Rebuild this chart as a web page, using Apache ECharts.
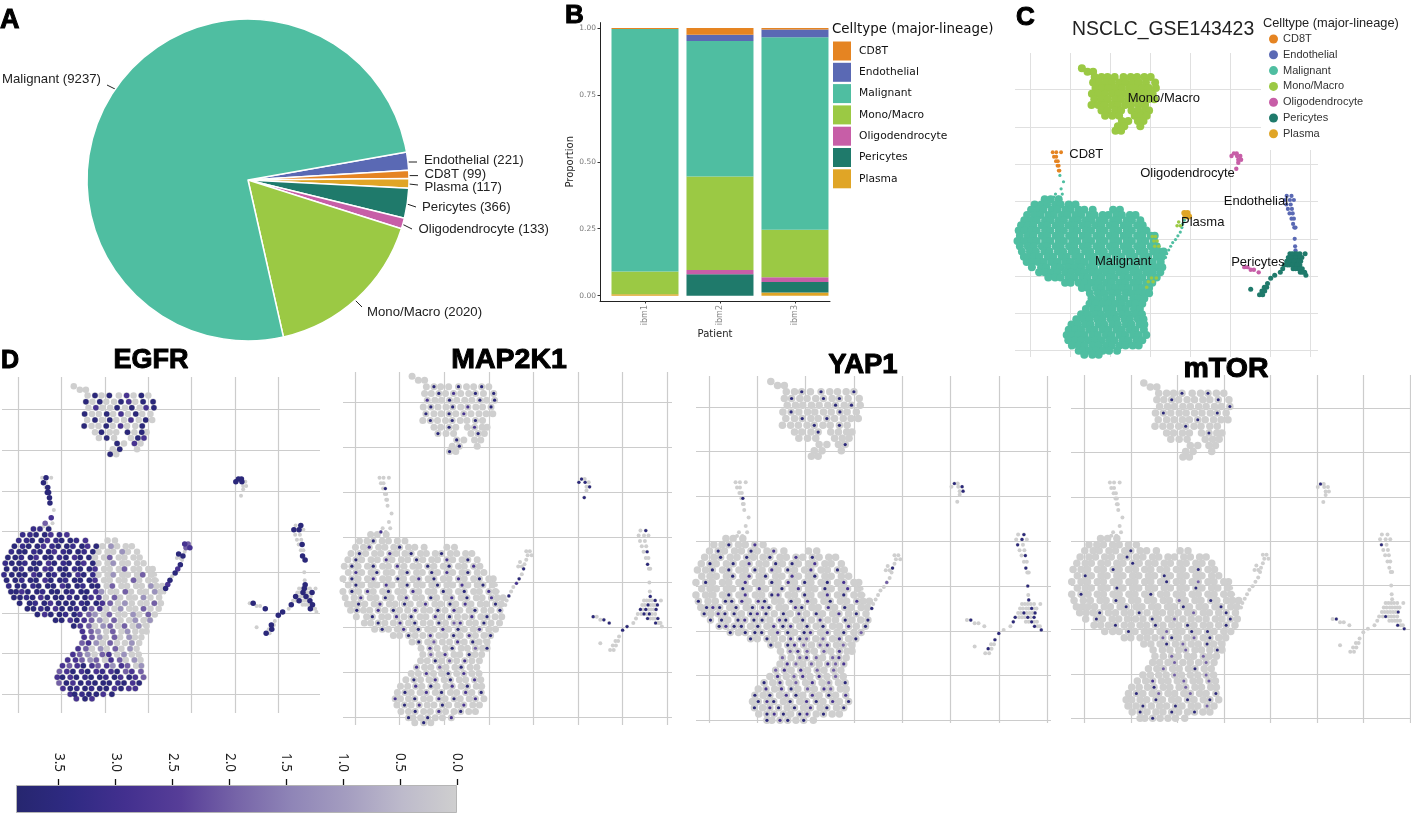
<!DOCTYPE html>
<html><head><meta charset="utf-8"><style>html,body{margin:0;padding:0;background:#fff}#c{width:1411px;height:816px}</style>
<script src="https://cdn.jsdelivr.net/npm/echarts@6/dist/echarts.min.js"></script></head><body><div id="c"></div><script>
// ---- cell types & colours
const cellTypes=['CD8T','Endothelial','Malignant','Mono/Macro','Oligodendrocyte','Pericytes','Plasma'];
const typeColors=['#E58422','#5A69B4','#4FBEA1','#9BC944','#C75EA7','#1F7A6B','#E0A526'];
// ---- panel A
const pieNames=['Endothelial','CD8T','Plasma','Pericytes','Oligodendrocyte','Mono/Macro','Malignant'];
const pieCounts=[221,99,117,366,133,2020,9237];
// ---- panel B
const patients=['ibm1','ibm2','ibm3'];
const propCD8T=[0.004,0.025,0.006];
const propEndothelial=[0,0.024,0.029];
const propMalignant=[0.906,0.506,0.719];
const propMono=[0.085,0.349,0.177];
const propOligo=[0,0.016,0.018];
const propPericytes=[0,0.08,0.039];
const propPlasma=[0.005,0,0.012];
// ---- UMAP cells: [y,[x,...]]
const malignantBlobRows=[
[40.6,[3.5,5,7]],
[39.2,[1,2.7,4.1,6.1,7.5,9.5,11.2]],
[37.8,[0.1,1.9,3.2,5.3,6.7,8.7,10,12,13.4,15.5,20.6,22.3]],
[36.4,[-0.9,1,2.4,4.4,5.8,7.8,9.2,11.2,12.6,14.7,16,18,19.4,21.4,22.8,24.8,26.2]],
[35,[-1.6,0.2,1.5,3.6,5,7,8.3,10.4,11.8,13.8,15.2,17.2,18.5,20.6,21.9,24,25.3,27.4]],
[33.6,[-2.4,-0.7,0.7,2.8,4.1,6.2,7.5,9.5,11,13,14.3,16.3,17.7,19.8,21.1,23.2,24.5,26.6,28]],
[32.2,[-3,-1.5,0.2,1.5,3.6,4.9,7,8.3,10.4,11.7,13.8,15.1,17.2,18.5,20.6,21.9,24,25.3,27.4,28.9]],
[30.8,[-2.7,-0.7,0.7,2.8,4.1,6.2,7.5,9.6,10.9,13,14.3,16.4,17.7,19.8,21.1,23.2,24.5,26.6,27.9,30,31]],
[29.4,[-3.3,-1.5,0.2,1.5,3.6,4.9,7,8.3,10.4,11.7,13.8,15.1,17.2,18.5,20.6,21.9,24,25.3,27.4,28.7,30.8]],
[28,[-2.7,-0.7,0.8,2.8,4.1,6.2,7.5,9.6,10.9,13,14.3,16.4,17.7,19.8,21.1,23.2,24.5,26.6,27.9,30,31.5]],
[26.6,[-2.2,-0.2,1.3,3.4,4.7,6.8,8.1,10.2,11.5,13.6,14.9,17,18.3,20.4,21.7,23.8,25.1,27.2,28.5,30.6,31.9,33.2]],
[25.2,[-1.7,-0.5,0.8,2.2,4.3,5.6,7.7,9,11.1,12.4,14.5,15.8,17.9,19.2,21.3,22.6,24.7,26,28.1,29.4,31.5,32.8]],
[23.8,[-1,0.4,1.9,3.3,5.2,6.7,8.6,10,11.8,13.5,15.4,16.8,18.6,20.2,22.2,23.5,25.6,26.9,28.9,30.5,32.5]],
[22.4,[0.3,2.6,3.9,6,7.4,9.3,11,12.6,14.6,15.9,18,19.4,21.2,23,24.6,26.2,28.2,29.6,31.4,32.9]],
[21,[2.1,3.5,5.2,6.7,8.6,10.1,12,13.4,15.3,16.9,18.8,20.3,22.2,23.6,25.6,27,28.9,30.5,32.4]],
[19.6,[4.4,6.1,7.5,9.5,10.9,12.9,14.2,16.3,17.7,19.7,21,23.1,24.5,26.5,27.9,30,31.5]],
[18.2,[8.6,10,12,13.5,15.2,16.9,18.8,20.2,22.1,23.6,25.6,27,28.9,30.4]],
[16.8,[12.8,14.3,16.3,17.7,19.6,21.2,23,24.5,26.4,27.8,29.6]],
[15.4,[14.8,16.8,18.4,20.3,21.8,23.8,25.2,27,28.6,29.6]],
[14,[15.2,17,18.8,20.2,22.2,23.5,25.6,26.9,28.4]],
[12.6,[14.7,16.2,18,19.4,21.2,22.8,24.6,26.2,27.9]],
[11.2,[13.8,15.6,17,19,20.4,22.4,23.8,25.8,27.3]],
[9.8,[12.6,14.2,16,17.6,19.4,20.9,22.8,24.4,26.2,27.8]],
[8.4,[11.4,13.2,14.7,16.6,18,20,21.4,23.4,24.8,26.8,28.2]],
[7,[10.2,11.8,13.6,15,17,18.4,20.4,21.8,23.8,25.2,27.2,28.4]],
[5.6,[9.5,11.2,12.6,14.6,16,18,19.4,21.4,22.8,24.8,26.2,28.3]],
[4.2,[9,10.2,12,13.4,15.4,16.8,18.8,20.2,22.2,23.6,25.6,27,28.9]],
[2.8,[9.4,11.1,12.6,14.4,16.2,17.7,19.6,21,23,24.4,26.4,27.9]],
[1.4,[10.3,12,13.5,15.4,16.9,18.8,20.3,22.2,23.7,25.5,27]],
[0,[12,13,14.7,16.3,18,19.6,21.6]],
[-1.1,[13.4,15.4,17]]];
const malignantTailRows=[[47,[7.3]],[45.3,[8.2]],[43.4,[7.6]],[42,[7.9,6.2]],[41.2,[5.8,6.9]],
[35,[38.4]],[34,[38]],[33,[37.8]],[31.8,[37.4]],[30.8,[36.8]],[29.8,[36.2]],[29,[35.5]],[28,[35]],[27,[34.5]],[26,[34]],[25,[33.7]]];
const monoBlobRows=[
[75.7,[12.8]],[74.8,[14.2,15.6]],
[73.4,[16,17.7,19.2,21,23.2,25,26.6,28.4,30]],
[71.9,[15.6,17.1,18.8,20.3,22.1,23.7,25.5,27,28.8,31.1]],
[70.4,[16.2,17.9,19.4,21.2,22.8,24.6,26.2,28,29.5,31.3]],
[68.9,[15.3,17,18.6,20.4,21.9,23.7,25.3,27.1,28.6,30.5]],
[67.4,[15.9,17.7,19.3,21.1,22.6,24.4,26,27.8,29.4,30.9]],
[65.9,[15.2,16.9,18.5,20.3,21.8,23.6,25.1,27,28.6]],
[64.4,[17.7,19.2,21.1,22.6,25.2,26.8,28.5,29.6]],
[63,[18.6,20.4,22.1,26,27.6,29]],
[61.6,[22.8,24.4,26.8,28.2]],
[60.2,[21.8,23.4,27.4]],
[59,[21.2,22.6]]];
const monoStrayRows=[[30.6,[30.4,31.2]],[29.4,[30.8,31.6]],[28,[31,32]],[19.5,[30.2,31.4]],[18.5,[29.4,30.6]],[17,[29]],[34.5,[37]],[33.5,[36.6,37.4]]];
const cd8Rows=[[53.2,[5.5,6.4,7.6]],[52,[5.8,6.4]],[50.8,[6.3,6.8]],[49.6,[6.7,7]],[48.3,[7,7.2]]];
const oligoRows=[[52.9,[50.8,51.5]],[52.2,[50.2,51.6,52.4]],[51.2,[51.9,52.6]],[50.4,[51.9]],[48.8,[51.4]],[22.4,[53.4,54.2]],[21.7,[55,55.8]],[21,[57]]];
const plasmaRows=[[36.9,[38.4,39.2]],[36,[38.7,39.6]]];
const endoRows=[[41.5,[64,65.2]],[40.4,[63.6,64.8,65.8]],[39.2,[63.9,65]],[38,[64.3,65.3]],[36.8,[64.7,65.5]],[35.4,[65.2,65.8]],[34,[65.6]],[33,[65.9,66.2]],[30,[66]],[28,[66.1]],[26.9,[66.2]]];
const periRows=[[26,[64.8,66,67.3,68.6,65.4,66.6]],[25,[64.4,65.7,66.8,67.8,65,66.2,67.3]],[24,[64,65.2,66.4,67.5,64.6,65.8,67]],[23,[63.4,64.8,66,67.3,64.2,65.4,66.6]],[22,[63,65.6,66.8,67.9,66.2,67.3]],[21,[62.4,67.4,68.5,68]],[20.2,[61,68.8]],[19.4,[60]],[18,[59.2]],[17,[58.4,59]],[16,[57.8,58.5]],[15,[57.2,58]],[16.5,[55]]];
const typeRows=[cd8Rows,endoRows,malignantBlobRows,monoBlobRows,oligoRows,periRows,plasmaRows];
const typeDotSizes=[3.8,4.2,8,8,4.4,5,6];
// ---- expression per cell, row by row, in the order below; digit = expression / 0.4
const exprOrder=[malignantBlobRows,malignantTailRows,monoBlobRows,monoStrayRows,cd8Rows,oligoRows,plasmaRows,endoRows,periRows];
const egfrExpr=['889','8899787','889978998700','98997899897903000','899899789989000300','9989799897990050000','89989979899790030000','998997899899700050000','899979989979800300050','998997998999700005000','8998999799899050000300','9979989998997300500030','998979998997705000300','99897999899750300050','9989799895700300500','97998975305003050','99797530500303','97503505030','7530503000','753050300','573050030','750305030','7530570300','77535075030','757975737503','579797879575','7979899897975','597989998979','79898997977','7989979','797','9','0','7','05','00','0','9','0','9','7','9','0','9','7','9','0',
'0','00','090907090','9090097099','0700909079','9009070900','0909007090','900907009','09009090','090097','9070','090','90','00','00','00','00','00','0','9','00',
'090','90','09','99','09','99','990','00','0','0','09','00','9','75','57','09','990','00','00','09','00','9','09','0','0','9','0900','0909','9090','0909','9009','090','90','9','0','9','09','90','0'];
const map2k1Expr=['000','0090000','007000900000','09000700900090000','090007000900070090','0900900700090090070','00700900090090700900','090070090070900700900','009000700900090070090','090700900700090090070','0070090070090070900700','0090070090070090700090','090070900700907009009','00900709007090070900','0090070900905700900','09007090070900700','00900700907009','09050070900','0700900509','050700900','009050700','700500900','0070090700','09007090070','007090070900','090070900709','7009007090070','090700900700','00900700900','9009007','090','0','0','0','00','70','0','0','9','0','9','7','0','0','9','0','0',
'0','00','090090090','0090700909','7009000909','0900907009','9009070000','090090090','00900700','900090','9000','090','90','00','00','00','00','00','0','0','00',
'000','00','09','00','00','90','990','09','0','9','90','09','9','00','00','09','000','00','00','09','00','9','00','0','0','9','0090','0909','9909','0990','0909','090','90','9','0','0','00','00','0'];
const yap1Expr=['000','0090070','090009007000','00900900900709000','090090700909007000','0090900907090070090','00000907090070090000','090000700907090090700','000000907009070090070','000090700970090070900','9009970790090700900700','0979090979007900709000','907990979090709007090','99097990790907009009','9799090797090900709','90999079097070905','90900795050709','90975057050','0575050700','505750570','075050757','570705050','0705707050','90705070509','070790507500','909079070907','0979090790709','907909070909','09790970900','9079090','090','0','0','0','00','00','0','9','0','0','5','0','0','0','0','0','9',
'0','00','009090009','0900090900','0000009090','0900000900','0090090000','000090090','00090000','000000','0009','000','00','00','00','00','00','00','0','0','00',
'000','00','00','09','00','90','009','09','0','0','09','00','0','00','00','09','090','90','00','09','00','9','00','9','0','9','0000','0090','0909','9099','9090','090','09','9','9','0','90','00','0'];
const mtorExpr=['000','0000000','000000900000','00000090000000000','000000090000000000','0000090000000000900','00900000000090000000','000000000000900050000','000000900000000090000','090000000090000000000','0000090000000500090000','0000000900000090000900','000900009000000500090','09000000900500000090','0009000090009000090','00090000500909000','00000590050900','00090500900','0000500090','005000500','000500050','005000900','0000500050','00700050050','000900050000','090050005009','0000900090090','009000900050','09000900900','0090000','090','0','0','0','00','00','0','0','0','0','0','0','0','0','0','0','0',
'0','00','000900900','0090000090','0000000009','0900000090','0000090000','000090000','00000900','000000','0000','000','00','00','00','00','00','00','0','0','00',
'000','00','00','00','00','90','000','00','0','0','09','00','0','00','00','00','000','90','00','00','00','0','00','0','0','0','0000','0000','0009','0900','0000','090','09','0','0','0','00','00','0'];
// ---- colour bar
const barTicks=[0,0.5,1,1.5,2,2.5,3,3.5];
const barMax=[3.875];
const exprColors=['#cfcfcf','#bdbacb','#a49dc0','#8f85b7','#7664a8','#573e98','#43308f','#2f2a83','#26266f'];
// ---- cluster labels in panel C
const labelNames=['Mono/Macro','CD8T','Oligodendrocyte','Plasma','Endothelial','Pericytes','Malignant'];
const labelX=[33.3,13.9,39.2,43,56.3,56.8,23.1];
const labelY=[67.7,52.7,47.6,34.5,40,23.8,24];
const gridTicks=[0,10,20,30,40,50,60,70];

const FONT='"Liberation Sans",Arial,sans-serif', DJ='"DejaVu Sans",sans-serif';
const rowCells=rows=>rows.flatMap(r=>r[1].map(x=>[x,r[0]]));
const mainCells=malignantBlobRows.concat(monoBlobRows);
const minorCells=[malignantTailRows,monoStrayRows,cd8Rows,oligoRows,plasmaRows,endoRows,periRows].flat();
function geneCells(strs){
  const out=[];
  let r=0;
  exprOrder.forEach(rows=>rows.forEach(row=>{
    const s=strs[r++]||'';
    row[1].forEach((x,i)=>{const d=+(s[i]||0); if(d>0) out.push([x,row[0],d*0.4]);});
  }));
  return out.sort((a,b)=>a[2]-b[2]);
}
// panel geometry
const panels=[
 {l:1015,r:1318,t:53,b:357,x0:1030.7,sx:4,y0:350.7,sy:3.73,line:'#e0e0e0',lw:1,cutX:[60,70],cutY:[60,70],cutTop:150,cutRight:1261},
 {l:2,r:320,t:377,b:713,x0:18.3,sx:4.333,y0:694.3,sy:4.07,line:'#cccccc',lw:1.2,expr:egfrExpr,base:6.5,minor:4,dot:5.5},
 {l:343,r:672,t:372,b:725,x0:355,sx:4.46,y0:717.7,sy:4.51,line:'#cccccc',lw:1.2,expr:map2k1Expr,base:7,minor:4,dot:3.2},
 {l:696,r:1051,t:376,b:723,x0:709,sx:4.83,y0:720.3,sy:4.476,line:'#cccccc',lw:1.2,expr:yap1Expr,base:7.5,minor:4,dot:3.2},
 {l:1071,r:1411,t:375,b:723,x0:1084.3,sx:4.65,y0:718.3,sy:4.43,line:'#cccccc',lw:1.2,expr:mtorExpr,base:7.5,minor:4,dot:3}
];
const grids=[{left:600,top:22.6,width:230,height:278.4}];
const xAxes=[{gridIndex:0,type:'value',min:0.4,max:3.467,
  axisLine:{show:true,onZero:false,lineStyle:{color:'#222',width:1}},splitLine:{show:false},
  axisTick:{show:true,length:2.5,customValues:[1,2,3],lineStyle:{color:'#333'}},
  axisLabel:{customValues:[1,2,3],rotate:90,fontSize:8,color:'#888',margin:4,fontFamily:DJ,formatter:v=>patients[Math.round(v)-1]},
  name:'Patient',nameLocation:'middle',nameGap:28,nameTextStyle:{fontSize:10,fontFamily:DJ,color:'#222'}}];
const yAxes=[{gridIndex:0,type:'value',min:-0.02,max:1.02,
  axisLine:{show:true,onZero:false,lineStyle:{color:'#222',width:1}},splitLine:{show:false},
  axisTick:{show:true,length:2.5,customValues:[0,0.25,0.5,0.75,1],lineStyle:{color:'#333'}},
  axisLabel:{customValues:[0,0.25,0.5,0.75,1],fontSize:7.5,color:'#777',margin:4,fontFamily:DJ,formatter:v=>v.toFixed(2)},
  name:'Proportion',nameLocation:'middle',nameGap:22,nameTextStyle:{fontSize:10,fontFamily:DJ,color:'#222'}}];
const series=[];
// pie
const pieLabelPos={'Endothelial':[424,160,[[408,162],[417,162]]],'CD8T':[424.5,174,[[409,175.6],[418,175.6]]],'Plasma':[424.5,187,[[409,184],[418,185]]],
 'Pericytes':[422,207,[[407,204],[416,207]]],'Oligodendrocyte':[418.5,229,[[402,224],[412,229]]],'Mono/Macro':[367,312,[[355,300],[362,307]]],'Malignant':[2,79,[[107,85],[115,89]]]};
series.push({type:'pie',center:[248,180],radius:[0,161],startAngle:10,clockwise:true,silent:true,
  data:pieNames.map((n,i)=>({name:n,value:pieCounts[i],itemStyle:{color:typeColors[cellTypes.indexOf(n)]}})),
  itemStyle:{borderColor:'#fff',borderWidth:1.5},
  label:{show:true,overflow:'none',formatter:p=>p.name+' ('+p.value+')',fontSize:13.2,fontFamily:FONT,color:'#222'},
  labelLine:{show:true,length:6,length2:4,lineStyle:{color:'#222',width:1}},
  labelLayout:p=>{const q=pieLabelPos[pieNames[p.dataIndex]];return {x:q[0],y:q[1],align:'left',verticalAlign:'middle',labelLinePoints:q[2]};}});
// stacked bars (bottom to top)
[['Plasma',propPlasma],['Pericytes',propPericytes],['Oligodendrocyte',propOligo],['Mono/Macro',propMono],['Malignant',propMalignant],['Endothelial',propEndothelial],['CD8T',propCD8T]].forEach(([n,v])=>{
  series.push({type:'bar',name:n,stack:'p',xAxisIndex:0,yAxisIndex:0,barWidth:67,silent:true,encode:{x:1,y:0},
    itemStyle:{color:typeColors[cellTypes.indexOf(n)]},data:v.map((y,i)=>[y,i+1])});
});
// UMAP panels
panels.forEach((p,i)=>{
  const g=i+1;
  const xmin=(p.l-p.x0)/p.sx,xmax=(p.r-p.x0)/p.sx,ymin=(p.y0-p.b)/p.sy,ymax=(p.y0-p.t)/p.sy;
  grids.push({left:p.l,top:p.t,width:p.r-p.l,height:p.b-p.t});
  xAxes.push({gridIndex:g,type:'value',show:false,min:xmin,max:xmax,splitLine:{show:false}});
  yAxes.push({gridIndex:g,type:'value',show:false,min:ymin,max:ymax,splitLine:{show:false}});
  const vTop=v=>p.cutX&&p.cutX.includes(v)?(p.y0-p.cutTop)/p.sy:ymax;
  const hEnd=v=>p.cutY&&p.cutY.includes(v)?(p.cutRight-p.x0)/p.sx:xmax;
  series.push({type:'scatter',xAxisIndex:g,yAxisIndex:g,data:[],silent:true,z:1,
    markLine:{silent:true,z:1,symbol:'none',animation:false,label:{show:false},lineStyle:{color:p.line,width:p.lw,type:'solid'},
      data:gridTicks.filter(v=>v<xmax).map(v=>[{coord:[v,ymin]},{coord:[v,vTop(v)]}]).concat(gridTicks.map(v=>[{coord:[xmin,v]},{coord:[hEnd(v),v]}]))}});
  if(!p.expr){
    cellTypes.forEach((n,k)=>series.push({type:'scatter',name:n,xAxisIndex:g,yAxisIndex:g,silent:true,z:3,symbolSize:typeDotSizes[k],
      itemStyle:{color:typeColors[k]},data:rowCells(typeRows[k])}));
    series.push({type:'scatter',name:'Malignant',xAxisIndex:g,yAxisIndex:g,silent:true,z:3,symbolSize:3.2,itemStyle:{color:typeColors[2]},data:rowCells(malignantTailRows)});
    series.push({type:'scatter',name:'Mono/Macro',xAxisIndex:g,yAxisIndex:g,silent:true,z:4,symbolSize:3.6,itemStyle:{color:typeColors[3]},data:rowCells(monoStrayRows)});
    series.push({type:'scatter',xAxisIndex:g,yAxisIndex:g,silent:true,z:5,symbol:'circle',symbolSize:0.1,itemStyle:{color:'transparent'},
      data:labelNames.map((n,k)=>({value:[labelX[k],labelY[k]],name:n})),
      label:{show:true,position:'inside',formatter:'{b}',fontSize:13,fontFamily:FONT,color:'#111'}});
  }else{
    series.push({type:'scatter',xAxisIndex:g,yAxisIndex:g,silent:true,z:2,symbolSize:p.base,itemStyle:{color:'#cfcfcf'},data:rowCells(mainCells)});
    series.push({type:'scatter',xAxisIndex:g,yAxisIndex:g,silent:true,z:2,symbolSize:p.minor,itemStyle:{color:'#cfcfcf'},data:rowCells(minorCells)});
    series.push({type:'scatter',id:'expr'+i,xAxisIndex:g,yAxisIndex:g,silent:true,z:3,symbolSize:p.dot,data:geneCells(p.expr)});
  }
});
series.forEach(s=>{if(s.type==='scatter') s.itemStyle=Object.assign({opacity:1},s.itemStyle);});
// colour bar
const cg=grids.length;
grids.push({left:16,top:785,width:441,height:28});
xAxes.push({gridIndex:cg,type:'value',inverse:true,position:'top',min:0,max:3.875,splitLine:{show:false},
  axisLine:{show:false},axisTick:{show:true,length:6,customValues:barTicks,lineStyle:{color:'#111',width:1.3}},
  axisLabel:{customValues:barTicks,rotate:90,fontSize:13.5,margin:13,color:'#222',fontFamily:'"Noto Sans",sans-serif',formatter:v=>v.toFixed(1)}});
yAxes.push({gridIndex:cg,type:'category',data:['expr'],show:false});
series.push({type:'bar',xAxisIndex:cg,yAxisIndex:cg,data:barMax,barWidth:'100%',silent:true,
  itemStyle:{borderColor:'#b5b5b5',borderWidth:1,color:new echarts.graphic.LinearGradient(0,0,1,0,exprColors.slice().reverse().map((c,i,a)=>({offset:i/(a.length-1),color:c})))}});
const exprSeriesIdx=series.map((s,i)=>String(s.id||'').startsWith('expr')?i:-1).filter(i=>i>=0);

const bigTitle=(t,l,top,s,a)=>({text:t,left:l,top:top,padding:0,textAlign:a||'left',textStyle:{fontSize:s,fontWeight:'bold',fontFamily:FONT,color:'#000',textBorderColor:'#000',textBorderWidth:1}});
const plainTitle=(t,l,top,s,f,c)=>({text:t,left:l,top:top,padding:0,textStyle:{fontSize:s,fontWeight:'normal',fontFamily:f,color:c}});
const chart=echarts.init(document.getElementById('c'),null,{renderer:'canvas'});
chart.setOption({animation:false,backgroundColor:'#fff',
  title:[bigTitle('A',0,7,27),bigTitle('B',565,3,26),bigTitle('C',1016,5,26),bigTitle('D',1,349,25),
    bigTitle('EGFR',151,347,27,'center'),bigTitle('MAP2K1',509,346,28.5,'center'),bigTitle('YAP1',863,351,27.5,'center'),bigTitle('mTOR',1226,355,28.5,'center'),
    plainTitle('NSCLC_GSE143423',1072,20,19.4,FONT,'#222'),
    plainTitle('Celltype (major-lineage)',832,23,13.4,DJ,'#111'),
    plainTitle('Celltype (major-lineage)',1263,17,12.8,FONT,'#222')],
  legend:[
    {left:833,top:41.5,orient:'vertical',icon:'rect',itemWidth:18,itemHeight:19,itemGap:2.3,selectedMode:false,data:cellTypes,
      textStyle:{fontSize:10.7,fontFamily:DJ,color:'#111',padding:[0,0,0,3]},padding:0},
    {left:1269,top:33.5,orient:'vertical',icon:'circle',itemWidth:9,itemHeight:9,itemGap:4.8,selectedMode:false,data:cellTypes,
      textStyle:{fontSize:11,fontFamily:FONT,color:'#333'},padding:0}],
  grid:grids,xAxis:xAxes,yAxis:yAxes,
  visualMap:[{show:false,type:'continuous',min:0,max:3.875,dimension:2,seriesIndex:exprSeriesIdx,inRange:{color:exprColors}}],
  series:series});
</script></body></html>
